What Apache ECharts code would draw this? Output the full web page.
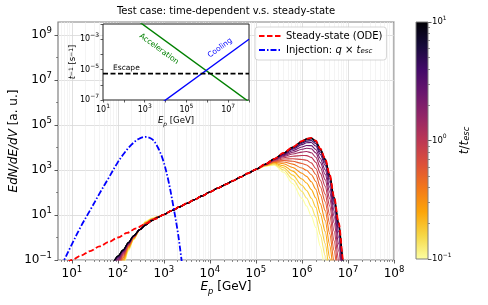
<!DOCTYPE html>
<html>
<head>
<meta charset="utf-8">
<script src="https://cdn.jsdelivr.net/npm/echarts@6.0.0/dist/echarts.min.js"></script>
<style>html,body{margin:0;padding:0;background:#fff;}#chart{width:488px;height:305px;}</style>
</head>
<body>
<div id="chart"></div>
<script>
// ===================== DATA =====================
// Steady-state solution (ODE), E [GeV] -> EdN/dE/dV
const ssE = [8, 10, 15.8, 25, 40, 63, 100, 158, 250, 400, 630, 1000, 1500, 2200, 3200, 4600, 6800, 1e4, 1.5e4, 2.2e4, 3.2e4, 4.6e4, 6.8e4, 1e5, 1.6e5, 2.5e5, 4e5, 6.3e5, 1e6, 1.26e6, 1.6e6, 2e6, 2.5e6, 3.2e6, 4e6, 5e6, 6.3e6, 7.9e6, 1e7];
const ssY = [0.08, 0.1, 0.158, 0.25, 0.4, 0.63, 1.0, 1.6, 2.55, 4.1, 6.5, 10.5, 15.8, 23, 33.5, 48, 71, 105, 158, 230, 335, 485, 720, 1070, 1820, 3160, 5750, 10500, 19100, 24500, 26900, 20000, 8900, 3160, 630, 63, 4.47, 0.1, 0.0016];

// Injection q x t_esc
const injE = [5.6, 6.8, 10, 15.8, 25.1, 39.8, 63.1, 100, 141, 200, 282, 398, 562, 741, 955, 1230, 1585, 2000, 2400, 2820];
const injY = [0.05, 0.1, 0.5, 3.16, 16.6, 89, 447, 2240, 6030, 13800, 24000, 29500, 22900, 10000, 2820, 398, 28, 1.78, 0.112, 0.0063];

// Time-dependent solutions, one per time t/t_esc
const tValues = [0.1, 0.133, 0.178, 0.237, 0.316, 0.422, 0.562, 0.75, 1.0, 1.33, 1.78, 2.37, 3.16, 4.22, 5.62, 7.5, 10];
const tdLowE = [80, 100, 130, 170, 220, 300, 400, 550, 750];
const tdMidE = [1000, 1500, 2200, 3200, 4600, 6800, 1e4, 1.5e4, 2.2e4, 3.2e4, 4.6e4, 6.8e4, 1e5];
const tdMidY = [10.5, 15.8, 23, 33.5, 48, 71, 105, 158, 230, 335, 485, 720, 1070];
const tdHighE = [1.6e5, 2.5e5, 4e5, 6.3e5, 1e6, 1.26e6, 1.6e6, 2e6, 2.5e6, 3.2e6, 4e6, 5e6, 6.3e6, 7.9e6, 1e7];
const tdLowY = [
  [0.001, 0.01, 0.05, 0.25, 0.79, 2.24, 5.25, 7.24, 8.5],
  [0.0017, 0.0138, 0.062, 0.28, 0.83, 2.24, 5.0, 7.1, 8.5],
  [0.0028, 0.019, 0.074, 0.31, 0.87, 2.24, 4.8, 6.8, 8.3],
  [0.0045, 0.025, 0.09, 0.34, 0.91, 2.24, 4.6, 6.6, 8.3],
  [0.0069, 0.033, 0.107, 0.37, 0.95, 2.24, 4.4, 6.5, 8.3],
  [0.0102, 0.042, 0.126, 0.40, 1.0, 2.24, 4.27, 6.3, 8.2],
  [0.0145, 0.052, 0.144, 0.43, 1.02, 2.24, 4.15, 6.2, 8.2],
  [0.0195, 0.063, 0.162, 0.46, 1.05, 2.24, 4.0, 6.1, 8.1],
  [0.027, 0.077, 0.183, 0.48, 1.08, 2.24, 3.9, 6.0, 8.1],
  [0.035, 0.091, 0.204, 0.51, 1.11, 2.24, 3.8, 5.9, 8.05],
  [0.043, 0.104, 0.221, 0.53, 1.13, 2.24, 3.75, 5.8, 8.0],
  [0.051, 0.115, 0.237, 0.55, 1.15, 2.24, 3.7, 5.75, 8.0],
  [0.061, 0.129, 0.254, 0.57, 1.17, 2.24, 3.63, 5.7, 8.0],
  [0.068, 0.138, 0.265, 0.59, 1.19, 2.24, 3.6, 5.68, 7.96],
  [0.074, 0.145, 0.275, 0.59, 1.19, 2.24, 3.57, 5.65, 7.95],
  [0.078, 0.149, 0.279, 0.60, 1.2, 2.24, 3.56, 5.64, 7.94],
  [0.079, 0.151, 0.282, 0.60, 1.2, 2.24, 3.55, 5.62, 7.94]
];
const tdHighY = [
  [1480, 1620, 794, 251, 55, 25, 8.9, 2.8, 0.4, 0.04, 0.0016, 5e-5, 1e-6, 1e-8, 1e-10],
  [1510, 1760, 1000, 390, 112, 57, 23, 8.1, 1.32, 0.155, 0.0074, 2.7e-4, 6e-6, 7e-8, 7e-10],
  [1550, 1900, 1260, 590, 210, 123, 56, 22, 4.0, 0.54, 0.031, 0.00126, 3.4e-5, 4e-7, 4.6e-9],
  [1590, 2040, 1550, 890, 400, 263, 135, 57, 12, 1.85, 0.126, 0.0059, 1.8e-4, 2.4e-6, 2.8e-8],
  [1620, 2190, 1900, 1290, 720, 520, 300, 139, 32, 5.7, 0.46, 0.024, 8.5e-4, 1.2e-5, 1.5e-7],
  [1650, 2300, 2280, 1820, 1220, 970, 620, 310, 81, 15.8, 1.48, 0.085, 0.0033, 5.1e-5, 6.6e-7],
  [1680, 2440, 2650, 2450, 1950, 1680, 1180, 630, 180, 39, 4.1, 0.26, 0.0114, 1.9e-4, 2.5e-6],
  [1700, 2560, 3070, 3180, 2940, 2710, 2070, 1170, 360, 85, 10.2, 0.71, 0.033, 5.8e-4, 8e-6],
  [1730, 2680, 3510, 4120, 4420, 4370, 3630, 2180, 730, 188, 25, 1.88, 0.098, 0.0018, 2.5e-5],
  [1750, 2790, 3970, 5140, 6270, 6640, 5880, 3710, 1330, 370, 55, 4.4, 0.245, 0.0047, 6.8e-5],
  [1770, 2880, 4370, 6210, 8370, 9350, 8770, 5770, 2190, 650, 104, 8.8, 0.52, 0.0105, 1.5e-4],
  [1780, 2950, 4720, 7220, 10600, 12300, 12100, 8220, 3270, 1020, 174, 15.5, 0.97, 0.02, 3e-4],
  [1800, 3030, 5110, 8370, 13400, 16300, 16600, 11700, 4890, 1610, 290, 27, 1.78, 0.038, 5.9e-4],
  [1810, 3090, 5370, 9190, 15500, 19300, 20300, 14600, 6280, 2130, 400, 38.6, 2.6, 0.057, 8.9e-4],
  [1815, 3130, 5580, 9900, 17400, 22100, 23900, 17500, 7670, 2670, 520, 51, 3.55, 0.079, 0.0012],
  [1820, 3150, 5700, 10300, 18500, 23700, 25900, 19100, 8470, 2990, 590, 59, 4.14, 0.092, 0.00146],
  [1820, 3160, 5750, 10500, 19100, 24500, 26900, 20000, 8900, 3160, 630, 63, 4.47, 0.1, 0.0016]
];

// Inset: inverse timescales t^-1 [s^-1] vs E_p [GeV]
const accE = [100, 1e8];
const accR = [0.076, 7.6e-8];
const coolE = [1e3, 1e8];
const coolR = [1.0e-8, 1.0e-3];
const escE = [10, 1e8];
const escR = [5.4e-6, 5.4e-6];

// Tick values
const mainXTicks = [10, 100, 1e3, 1e4, 1e5, 1e6, 1e7, 1e8];
const mainYTicks = [0.1, 10, 1e3, 1e5, 1e7, 1e9];
const mainYMinor = [1, 100, 1e4, 1e6, 1e8];
const insetXTicks = [10, 100, 1e3, 1e4, 1e5, 1e6, 1e7, 1e8];
const insetXLabels = [10, 1e3, 1e5, 1e7];
const insetYTicks = [1e-7, 1e-6, 1e-5, 1e-4, 1e-3, 1e-2];
const insetYLabels = [1e-7, 1e-5, 1e-3];
const cbarRange = [0.1, 10];
const cbarTicks = [0.1, 1, 10];

// ===================== STYLE / HELPERS =====================
const FONT = 'DejaVu Sans';
const INFERNO = ['#000004','#160b39','#420a68','#6a176e','#932667','#bc3754','#dd513a','#f37819','#fca50a','#f6d746','#fcffa4'];
function hexRGB(h){ return [parseInt(h.substr(1,2),16), parseInt(h.substr(3,2),16), parseInt(h.substr(5,2),16)]; }
function inferno(u){
  u = Math.min(1, Math.max(0, u));
  const x = u * 10, i = Math.min(9, Math.floor(x)), f = x - i;
  const a = hexRGB(INFERNO[i]), b = hexRGB(INFERNO[i+1]);
  return 'rgb(' + [0,1,2].map(j => Math.round(a[j] + (b[j]-a[j]) * f)).join(',') + ')';
}
const lmin = Math.log10(cbarRange[0]), lmax = Math.log10(cbarRange[1]);
function tColor(t){ return inferno(1 - (Math.log10(t) - lmin) / (lmax - lmin)); }

function minorsBetween(lo, hi){
  const out = [];
  for (let e = Math.floor(Math.log10(lo)); e <= Math.ceil(Math.log10(hi)); e++) {
    for (let m = 2; m <= 9; m++) { const v = m * Math.pow(10, e); if (v > lo && v < hi) out.push(v); }
  }
  return out;
}
function pow10(v){
  const e = Math.round(Math.log10(v));
  return '{b|10}{s|' + (e < 0 ? '\u2212' + (-e) : e) + '}';
}
function tickRich(fs, sfs){
  return {
    b: {fontSize: fs, fontFamily: FONT, color: '#000', lineHeight: fs + 5},
    s: {fontSize: sfs, fontFamily: FONT, color: '#000', verticalAlign: 'top', lineHeight: sfs + 1}
  };
}
function nameRich(fs){
  return {
    i: {fontSize: fs, fontFamily: FONT, fontStyle: 'italic', color: '#000'},
    sub: {fontSize: fs * 0.7, fontFamily: FONT, fontStyle: 'italic', color: '#000', verticalAlign: 'bottom', lineHeight: fs * 0.7},
    sup: {fontSize: fs * 0.7, fontFamily: FONT, color: '#000', verticalAlign: 'top', lineHeight: fs * 0.7}
  };
}

// ===================== SERIES =====================
const series = [];
tValues.forEach((t, k) => {
  const ys = tdLowY[k].concat(tdMidY, tdHighY[k]);
  const xs = tdLowE.concat(tdMidE, tdHighE);
  series.push({
    type: 'line', name: 't' + k, xAxisIndex: 0, yAxisIndex: 0,
    data: xs.map((e, i) => [e, ys[i]]),
    symbol: 'none', smooth: 0.3, smoothMonotone: 'x', clip: true, silent: true,
    lineStyle: {color: tColor(t), width: 1.1}, z: 2
  });
});
series.push({
  type: 'line', name: 'Steady-state (ODE)', xAxisIndex: 0, yAxisIndex: 0,
  data: ssE.map((e, i) => [e, ssY[i]]),
  symbol: 'none', showSymbol: false, smooth: 0.3, smoothMonotone: 'x', clip: true, silent: true,
  lineStyle: {color: '#ff0000', width: 1.8, type: [5.5, 2.5]}, itemStyle: {color: '#ff0000'}, z: 3
});
series.push({
  type: 'line', name: 'Injection', xAxisIndex: 0, yAxisIndex: 0,
  data: injE.map((e, i) => [e, injY[i]]),
  symbol: 'none', showSymbol: false, smooth: 0.35, clip: true, silent: true,
  lineStyle: {color: '#0000ff', width: 1.8, type: [6, 2, 1.5, 2]}, itemStyle: {color: '#0000ff'}, z: 4
});
// inset
series.push({type: 'line', name: 'acc', xAxisIndex: 2, yAxisIndex: 2, data: accE.map((e,i)=>[e, accR[i]]), symbol: 'none', clip: true, silent: true, lineStyle: {color: '#008000', width: 1.4}, z: 12});
series.push({type: 'line', name: 'cool', xAxisIndex: 2, yAxisIndex: 2, data: coolE.map((e,i)=>[e, coolR[i]]), symbol: 'none', clip: true, silent: true, lineStyle: {color: '#0000ff', width: 1.4}, z: 12});
series.push({type: 'line', name: 'esc', xAxisIndex: 2, yAxisIndex: 2, data: escE.map((e,i)=>[e, escR[i]]), symbol: 'none', clip: true, silent: true, lineStyle: {color: '#000', width: 1.6, type: [5, 2.5]}, z: 12});
// colorbar
const cbarStops = INFERNO.map((c, i) => ({offset: i / 10, color: c}));
series.push({
  type: 'custom', xAxisIndex: 3, yAxisIndex: 3, silent: true, clip: false, z: 5,
  data: [[0, cbarRange[0], cbarRange[1]]],
  renderItem: function(params, api){
    const p0 = api.coord([0, cbarRange[0]]);
    const p1 = api.coord([1, cbarRange[1]]);
    return {type: 'rect', shape: {x: p0[0], y: p1[1], width: p1[0] - p0[0], height: p0[1] - p1[1]},
      style: {fill: new echarts.graphic.LinearGradient(0, 0, 0, 1, cbarStops), stroke: '#7f7f7f', lineWidth: 1}};
  }
});

// ===================== AXES =====================
const tickLine = {color: '#333', width: 0.8};
const option = {
  animation: false,
  backgroundColor: '#fff',
  title: {
    text: 'Test case: time-dependent v.s. steady-state', left: 226, top: 6, textAlign: 'center', padding: 0,
    textStyle: {fontFamily: FONT, fontSize: 10, fontWeight: 'normal', color: '#000'}, z: 20
  },
  legend: {
    data: ['Steady-state (ODE)', 'Injection'], orient: 'vertical', left: 255, top: 27,
    itemWidth: 22, itemHeight: 8, itemGap: 4, padding: [4, 4, 5, 3],
    itemStyle: {opacity: 0, borderWidth: 0},
    backgroundColor: 'rgba(255,255,255,0.85)', borderColor: '#cccccc', borderWidth: 0.8, borderRadius: 3,
    textStyle: {fontFamily: FONT, fontSize: 10, color: '#000', rich: {
      i: {fontFamily: FONT, fontSize: 10, fontStyle: 'italic', color: '#000'},
      sub: {fontFamily: FONT, fontSize: 7, fontStyle: 'italic', color: '#000', verticalAlign: 'bottom', lineHeight: 7}
    }},
    formatter: n => n === 'Injection' ? 'Injection: {i|q} \u00d7 {i|t}{sub|esc}' : n,
    selectedMode: false, z: 20
  },
  grid: [
    {left: 58, top: 22, width: 336, height: 238, show: true, borderColor: '#808080', borderWidth: 1.2, backgroundColor: 'transparent', outerBoundsMode: 'none', z: 0},
    {left: 103, top: 24, width: 146, height: 76, show: true, borderColor: '#222', borderWidth: 1, backgroundColor: '#fff', outerBoundsMode: 'none', z: 10},
    {left: 416, top: 22, width: 12, height: 237, show: false, outerBoundsMode: 'none', z: 0}
  ],
  xAxis: [
    {gridIndex: 0, type: 'log', logBase: 10, min: 5, max: 1e8, position: 'bottom',
      axisLine: {show: false, onZero: false},
      axisTick: {show: true, length: 3.5, lineStyle: tickLine, customValues: mainXTicks},
      axisLabel: {customValues: mainXTicks, formatter: pow10, margin: 5, rich: tickRich(12, 8.5)},
      splitLine: {show: true, lineStyle: {color: '#d8d8d8', width: 0.8}},
      name: '{i|E}{sub|p} [GeV]', nameLocation: 'middle', nameGap: 18, nameMoveOverlap: false,
      nameTextStyle: {fontFamily: FONT, fontSize: 12, color: '#000', lineHeight: 18, rich: nameRich(12)}},
    {gridIndex: 0, type: 'log', logBase: 10, min: 5, max: 1e8, position: 'bottom',
      axisLine: {show: false, onZero: false}, axisLabel: {show: false},
      axisTick: {show: true, length: 2, lineStyle: {color: '#444', width: 0.6}, customValues: minorsBetween(5, 1e8)},
      splitLine: {show: true, lineStyle: {color: '#ececec', width: 0.6}}},
    {gridIndex: 1, type: 'log', logBase: 10, min: 10, max: 1e8, position: 'bottom', z: 11,
      axisLine: {show: false, onZero: false},
      axisTick: {show: true, length: 2.5, lineStyle: tickLine, customValues: insetXTicks},
      axisLabel: {customValues: insetXLabels, formatter: pow10, margin: 3, rich: tickRich(8, 6)},
      splitLine: {show: false},
      name: '{i|E}{sub|p} [GeV]', nameLocation: 'middle', nameGap: 15, nameMoveOverlap: false,
      nameTextStyle: {fontFamily: FONT, fontSize: 8.5, color: '#000', lineHeight: 12, rich: nameRich(8.5)}},
    {gridIndex: 2, type: 'value', min: 0, max: 1, show: false}
  ],
  yAxis: [
    {gridIndex: 0, type: 'log', logBase: 10, min: 0.1, max: 3.8e9, position: 'left',
      axisLine: {show: false, onZero: false},
      axisTick: {show: true, length: 3.5, lineStyle: tickLine, customValues: mainYTicks},
      axisLabel: {customValues: mainYTicks, formatter: pow10, margin: 6, rich: tickRich(12, 8.5)},
      splitLine: {show: true, lineStyle: {color: '#d8d8d8', width: 0.8}},
      name: '{i|EdN/dE/dV} [a. u.]', nameLocation: 'middle', nameGap: 38, nameRotate: 90, nameMoveOverlap: false,
      nameTextStyle: {fontFamily: FONT, fontSize: 12, color: '#000', rich: nameRich(12)}},
    {gridIndex: 0, type: 'log', logBase: 10, min: 0.1, max: 3.8e9, position: 'left',
      axisLine: {show: false, onZero: false}, axisLabel: {show: false}, splitLine: {show: false},
      axisTick: {show: true, length: 2, lineStyle: {color: '#444', width: 0.6}, customValues: mainYMinor}},
    {gridIndex: 1, type: 'log', logBase: 10, min: 1e-7, max: 1e-2, position: 'left', z: 11,
      axisLine: {show: false, onZero: false},
      axisTick: {show: true, length: 2.5, lineStyle: tickLine, customValues: insetYTicks},
      axisLabel: {customValues: insetYLabels, formatter: pow10, margin: 4, rich: tickRich(8, 6)},
      splitLine: {show: false},
      name: '{i|t}{sup|\u22121} [s{sup|\u22121}]', nameLocation: 'middle', nameGap: 26, nameRotate: 90, nameMoveOverlap: false,
      nameTextStyle: {fontFamily: FONT, fontSize: 8.5, color: '#000', rich: nameRich(8.5)}},
    {gridIndex: 2, type: 'log', logBase: 10, min: cbarRange[0], max: cbarRange[1], position: 'right',
      axisLine: {show: false, onZero: false},
      axisTick: {show: true, length: 3.5, lineStyle: tickLine, customValues: cbarTicks},
      axisLabel: {customValues: cbarTicks, formatter: pow10, margin: 4, rich: tickRich(8.5, 6)},
      splitLine: {show: false},
      name: '{i|t}/{i|t}{sub|esc}', nameLocation: 'middle', nameGap: 31, nameRotate: 90, nameMoveOverlap: false,
      nameTextStyle: {fontFamily: FONT, fontSize: 12, color: '#000', rich: nameRich(12)}},
    {gridIndex: 2, type: 'log', logBase: 10, min: cbarRange[0], max: cbarRange[1], position: 'right',
      axisLine: {show: false, onZero: false}, axisLabel: {show: false}, splitLine: {show: false},
      axisTick: {show: true, length: 2, lineStyle: {color: '#444', width: 0.6}, customValues: minorsBetween(cbarRange[0], cbarRange[1])}}
  ],
  graphic: [
    {type: 'text', x: 113, y: 68, z: 30, style: {text: 'Escape', fill: '#000', font: '7.5px "DejaVu Sans"', align: 'left', verticalAlign: 'middle'}},
    {type: 'text', x: 159, y: 49, rotation: -0.63, z: 30, style: {text: 'Acceleration', fill: '#008000', font: '7.5px "DejaVu Sans"', align: 'center', verticalAlign: 'middle'}},
    {type: 'text', x: 220, y: 48, rotation: 0.63, z: 30, style: {text: 'Cooling', fill: '#0000ff', font: '7.5px "DejaVu Sans"', align: 'center', verticalAlign: 'middle'}}
  ],
  series: series
};

const chart = echarts.init(document.getElementById('chart'), null, {renderer: 'canvas', width: 488, height: 305});
chart.setOption(option);
</script>
</body>
</html>
